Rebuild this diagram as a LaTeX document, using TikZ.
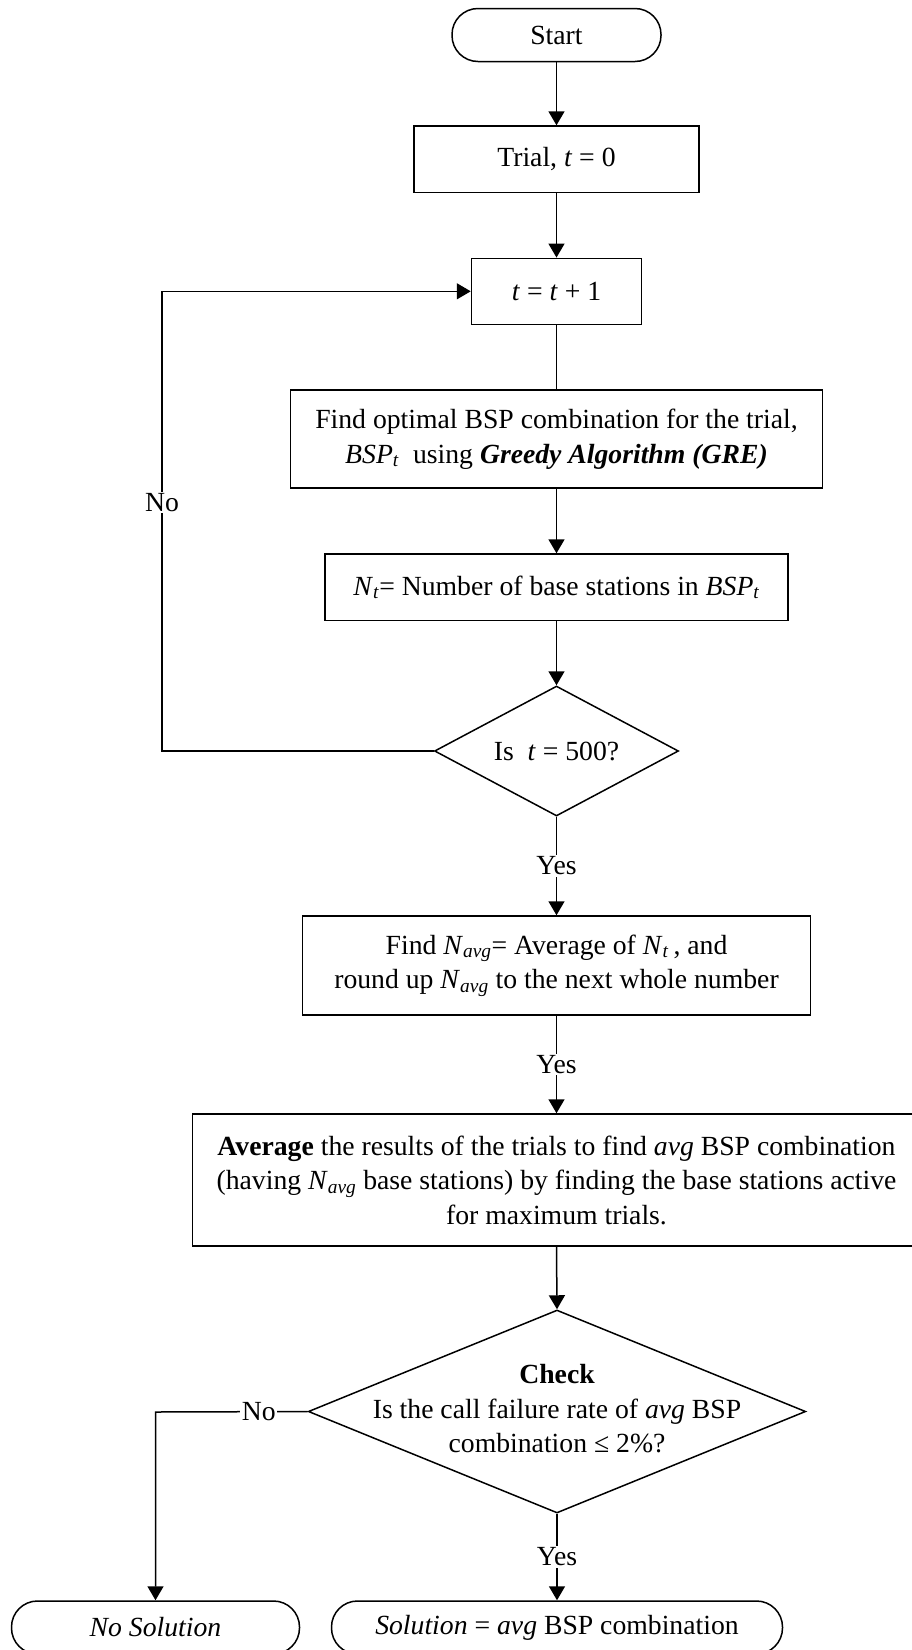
\documentclass[tikz,border=0pt]{standalone}
\usepackage{fontspec}
\setmainfont{Liberation Serif}
\usetikzlibrary{arrows.meta,shapes.geometric}

\tikzset{
  line/.style={line width=1.5pt},
  flow/.style={line, -{Triangle[length=14pt,width=16pt]}},
  thinline/.style={line width=0.9pt},
  procbox/.style={draw, line width=1.5pt, rectangle, inner sep=0pt, align=center},
  termbox/.style={draw, line width=1.5pt, rectangle, rounded corners=26pt, inner sep=0pt, align=center},
  decision/.style={draw, line width=1.5pt, diamond, inner sep=0pt, aspect=1},
  answer/.style={fill=white, inner sep=1.5pt},
}

\begin{document}
\begin{tikzpicture}[x=1pt, y=-1pt, font=\fontsize{27.7}{34.5}\selectfont]
  \clip (0,0) rectangle (912,1650);
  \fill[white] (0,0) rectangle (912,1650);

  % terminals and process steps
  \node[termbox, minimum width=209pt, minimum height=53pt] (start) at (556.5,35) {Start};
  \node[procbox, minimum width=285pt, minimum height=66.5pt] (trial) at (556.5,159.3) {Trial, \textit{t} = 0};
  \node[procbox, minimum width=170pt, minimum height=66pt] (inc) at (556.5,291.3) {\textit{t} = \textit{t} + 1};
  \node[procbox, minimum width=532pt, minimum height=98pt] (greedy) at (556.5,439)
    {Find optimal BSP combination for the trial,\\
     \textit{BSP}\textsubscript{\textit{t}}\ \ using \textbf{\textit{Greedy Algorithm (GRE)}}};
  \node[procbox, minimum width=463pt, minimum height=66.5pt] (count) at (556.5,587.3)
    {\textit{N}\textsubscript{\textit{t}}= Number of base stations in \textit{BSP}\textsubscript{\textit{t}}};

  % loop test
  \node[decision, minimum width=244pt, minimum height=130pt] (loop) at (556.5,751) {};
  \node (looptext) at (556.5,751) {Is\ \ \textit{t} = 500?};

  \node[procbox, minimum width=508pt, minimum height=99pt] (navg) at (556.5,965.5)
    {Find \textit{N}\textsubscript{\textit{avg}}= Average of \textit{N}\textsubscript{\textit{t}}\,,\ and\\
     round up \textit{N}\textsubscript{\textit{avg}} to the next whole number};
  \node[procbox, minimum width=727.6pt, minimum height=132pt] (average) at (556.5,1180)
    {\textbf{Average} the results of the trials to find \textit{avg} BSP combination\\
     (having \textit{N}\textsubscript{\textit{avg}} base stations) by finding the base stations active\\
     for maximum trials.};

  % final check
  \node[decision, minimum width=497.4pt, minimum height=203pt] (check) at (557,1411.5) {};
  \node[align=center] (checktext) at (557,1409)
    {\textbf{Check}\\
     Is the call failure rate of \textit{avg} BSP\\
     combination ≤ 2\%?};

  \node[termbox, minimum width=288pt, minimum height=53pt] (nosol) at (155.5,1627.5) {\textit{No Solution}};
  \node[termbox, minimum width=451pt, minimum height=53pt] (sol) at (557,1627.5)
    {\textit{Solution} = \textit{avg} BSP combination};

  % bends of the two "No" branches
  \coordinate (loopdown) at (162,751);
  \coordinate (loopup) at (162,291.3);
  \coordinate (nobend) at (155.5,1412);

  % connectors
  \draw[flow] (start) -- (trial);
  \draw[flow] (trial) -- (inc);
  \draw[thinline] (inc) -- (greedy);
  \draw[flow] (greedy) -- (count);
  \draw[flow] (count) -- (loop);
  \draw[flow] (loop.west) -- (loopdown) -- node[answer, pos=0.54] {No} (loopup) -- (inc.west);
  \draw[flow] (loop.south) -- node[answer] {Yes} (navg.north);
  \draw[flow] (navg.south) -- node[answer] {Yes} (average.north);
  \draw[flow] (average.south) -- (check.north);
  \draw[flow] (check.west) -- node[answer, pos=0.32] {No} (nobend) -- (nosol.north);
  \draw[flow] (check.south) -- node[answer] {Yes} (sol.north);
\end{tikzpicture}
\end{document}
